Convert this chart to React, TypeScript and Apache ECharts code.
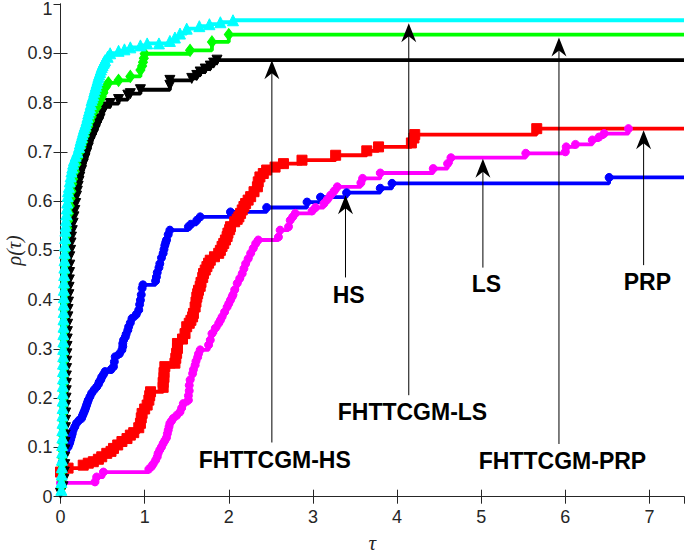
import React, { useEffect, useRef } from 'react';
import * as echarts from 'echarts';

const XMAX = 7.41;
const X_TICKS_INTERVAL = 1;
const Y_TICKS_INTERVAL = 0.1;
const Y_MAX = 1;

// Each series: [tau, rho] step points
const hsPoints = [[0.02,0.07],[0.05,0.09],[0.09,0.101],[0.1,0.106],[0.11,0.11],[0.12,0.116],[0.13,0.122],[0.14,0.128],[0.15,0.135],[0.17,0.142],[0.19,0.149],[0.22,0.155],[0.25,0.159],[0.26,0.164],[0.27,0.168],[0.28,0.172],[0.29,0.176],[0.3,0.181],[0.31,0.186],[0.32,0.191],[0.33,0.196],[0.35,0.203],[0.37,0.21],[0.4,0.217],[0.43,0.223],[0.45,0.228],[0.46,0.233],[0.48,0.238],[0.49,0.243],[0.51,0.248],[0.53,0.254],[0.6,0.258],[0.63,0.264],[0.64,0.274],[0.65,0.284],[0.7,0.29],[0.73,0.298],[0.74,0.305],[0.74,0.311],[0.75,0.318],[0.77,0.324],[0.78,0.33],[0.8,0.338],[0.81,0.345],[0.83,0.353],[0.85,0.362],[0.9,0.37],[0.93,0.379],[0.94,0.39],[0.95,0.399],[0.96,0.41],[0.97,0.423],[0.98,0.43],[1.13,0.438],[1.14,0.446],[1.15,0.455],[1.17,0.465],[1.18,0.473],[1.2,0.485],[1.22,0.494],[1.23,0.502],[1.24,0.51],[1.25,0.516],[1.26,0.521],[1.28,0.532],[1.3,0.541],[1.52,0.548],[1.55,0.553],[1.62,0.561],[1.66,0.568],[2.02,0.578],[2.45,0.587],[2.93,0.598],[3.09,0.608],[3.4,0.617],[3.8,0.626],[3.94,0.636],[6.52,0.648]];

const prpPoints = [[0,0.05],[0.09,0.058],[0.27,0.064],[0.33,0.068],[0.39,0.071],[0.45,0.076],[0.49,0.081],[0.55,0.088],[0.6,0.092],[0.63,0.098],[0.68,0.105],[0.73,0.112],[0.79,0.118],[0.83,0.125],[0.87,0.13],[0.93,0.14],[0.95,0.149],[0.96,0.16],[0.97,0.169],[1.0,0.178],[1.03,0.186],[1.05,0.196],[1.06,0.205],[1.07,0.213],[1.22,0.222],[1.22,0.232],[1.23,0.242],[1.23,0.252],[1.24,0.264],[1.36,0.271],[1.37,0.281],[1.38,0.291],[1.39,0.301],[1.39,0.311],[1.45,0.32],[1.48,0.331],[1.5,0.345],[1.53,0.352],[1.55,0.358],[1.57,0.365],[1.58,0.372],[1.6,0.385],[1.61,0.395],[1.62,0.405],[1.63,0.412],[1.64,0.419],[1.66,0.427],[1.67,0.435],[1.69,0.445],[1.7,0.453],[1.72,0.46],[1.74,0.467],[1.76,0.474],[1.78,0.48],[1.83,0.487],[1.88,0.494],[1.9,0.5],[1.92,0.508],[1.94,0.514],[1.96,0.521],[1.98,0.528],[1.99,0.535],[2.01,0.542],[2.02,0.548],[2.07,0.558],[2.1,0.563],[2.12,0.568],[2.14,0.575],[2.16,0.582],[2.18,0.589],[2.2,0.595],[2.23,0.602],[2.26,0.609],[2.3,0.619],[2.34,0.629],[2.35,0.639],[2.37,0.649],[2.41,0.656],[2.45,0.663],[2.55,0.669],[2.65,0.676],[2.87,0.683],[3.27,0.693],[3.64,0.702],[3.78,0.71],[4.17,0.718],[4.2,0.728],[4.21,0.735],[5.66,0.747]];

const lsPoints = [[0,0.028],[0.41,0.03],[0.43,0.04],[0.51,0.05],[1.05,0.056],[1.08,0.061],[1.1,0.066],[1.13,0.074],[1.15,0.081],[1.16,0.088],[1.18,0.095],[1.2,0.101],[1.22,0.108],[1.24,0.114],[1.26,0.12],[1.27,0.128],[1.28,0.135],[1.29,0.142],[1.3,0.149],[1.32,0.154],[1.34,0.159],[1.38,0.165],[1.42,0.172],[1.44,0.18],[1.46,0.189],[1.52,0.196],[1.52,0.205],[1.53,0.215],[1.53,0.226],[1.54,0.237],[1.57,0.25],[1.58,0.258],[1.6,0.267],[1.61,0.275],[1.63,0.283],[1.64,0.29],[1.66,0.298],[1.76,0.308],[1.78,0.318],[1.8,0.331],[1.84,0.342],[1.88,0.352],[1.9,0.358],[1.92,0.365],[1.95,0.375],[1.98,0.385],[2.0,0.392],[2.02,0.399],[2.04,0.406],[2.05,0.41],[2.07,0.42],[2.1,0.433],[2.13,0.443],[2.16,0.453],[2.18,0.463],[2.2,0.473],[2.23,0.483],[2.26,0.494],[2.29,0.504],[2.32,0.514],[2.35,0.521],[2.59,0.527],[2.61,0.541],[2.71,0.548],[2.73,0.561],[2.76,0.568],[2.79,0.575],[2.99,0.58],[3.03,0.587],[3.13,0.595],[3.17,0.603],[3.21,0.612],[3.25,0.62],[3.29,0.629],[3.57,0.637],[3.59,0.646],[3.8,0.657],[4.43,0.666],[4.6,0.676],[4.64,0.688],[5.53,0.697],[6.0,0.7],[6.01,0.71],[6.12,0.715],[6.32,0.724],[6.4,0.73],[6.46,0.737],[6.75,0.747]];

const fhHsPoints = [[0,0.007],[0.03,0.02],[0.04,0.035],[0.045,0.05],[0.05,0.065],[0.05,0.08],[0.052,0.095],[0.054,0.11],[0.056,0.125],[0.058,0.14],[0.06,0.155],[0.062,0.17],[0.064,0.185],[0.066,0.2],[0.068,0.215],[0.07,0.23],[0.07,0.245],[0.072,0.26],[0.074,0.275],[0.076,0.29],[0.078,0.305],[0.08,0.32],[0.082,0.335],[0.085,0.35],[0.088,0.365],[0.09,0.38],[0.095,0.395],[0.1,0.41],[0.102,0.425],[0.105,0.44],[0.108,0.455],[0.11,0.47],[0.11,0.487],[0.12,0.5],[0.125,0.515],[0.13,0.527],[0.14,0.54],[0.15,0.555],[0.16,0.568],[0.17,0.581],[0.18,0.595],[0.19,0.61],[0.2,0.62],[0.21,0.63],[0.22,0.64],[0.23,0.649],[0.25,0.662],[0.27,0.675],[0.29,0.686],[0.31,0.697],[0.33,0.708],[0.35,0.72],[0.37,0.728],[0.39,0.735],[0.41,0.744],[0.43,0.752],[0.45,0.76],[0.47,0.767],[0.49,0.78],[0.51,0.786],[0.53,0.791],[0.59,0.798],[0.69,0.806],[0.8,0.815],[0.83,0.818],[0.95,0.826],[1.3,0.835],[1.3,0.845],[1.56,0.849],[1.62,0.855],[1.66,0.862],[1.72,0.868],[1.78,0.874],[1.82,0.88],[1.86,0.886]];

const fhPrpPoints = [[0.01,0.02],[0.012,0.035],[0.014,0.05],[0.016,0.065],[0.018,0.08],[0.02,0.095],[0.022,0.11],[0.024,0.125],[0.026,0.14],[0.028,0.155],[0.03,0.17],[0.03,0.185],[0.032,0.2],[0.032,0.215],[0.034,0.23],[0.034,0.245],[0.036,0.26],[0.036,0.275],[0.038,0.29],[0.038,0.305],[0.04,0.32],[0.04,0.335],[0.042,0.35],[0.042,0.365],[0.044,0.38],[0.044,0.395],[0.046,0.41],[0.046,0.425],[0.048,0.44],[0.05,0.455],[0.05,0.47],[0.055,0.485],[0.06,0.5],[0.065,0.515],[0.07,0.53],[0.08,0.545],[0.09,0.56],[0.1,0.575],[0.11,0.59],[0.12,0.605],[0.13,0.62],[0.14,0.635],[0.15,0.645],[0.17,0.66],[0.19,0.675],[0.21,0.688],[0.23,0.7],[0.25,0.71],[0.27,0.72],[0.29,0.732],[0.31,0.742],[0.33,0.752],[0.35,0.762],[0.37,0.771],[0.39,0.78],[0.43,0.79],[0.45,0.798],[0.47,0.805],[0.49,0.812],[0.51,0.82],[0.54,0.832],[0.57,0.84],[0.69,0.845],[0.83,0.853],[0.95,0.866],[0.97,0.874],[0.98,0.882],[0.99,0.89],[1.0,0.899],[1.54,0.906],[1.8,0.923],[2.0,0.938]];

const fhLsPoints = [[0.01,0.014],[0.012,0.03],[0.014,0.045],[0.016,0.06],[0.018,0.075],[0.02,0.09],[0.02,0.105],[0.022,0.12],[0.022,0.135],[0.024,0.15],[0.024,0.165],[0.026,0.18],[0.026,0.195],[0.028,0.21],[0.028,0.225],[0.03,0.24],[0.03,0.255],[0.03,0.27],[0.032,0.285],[0.032,0.3],[0.034,0.315],[0.034,0.33],[0.036,0.345],[0.036,0.36],[0.038,0.375],[0.038,0.39],[0.04,0.405],[0.04,0.42],[0.042,0.435],[0.044,0.45],[0.046,0.465],[0.048,0.48],[0.05,0.495],[0.052,0.51],[0.055,0.525],[0.058,0.54],[0.062,0.55],[0.065,0.561],[0.07,0.573],[0.075,0.585],[0.08,0.597],[0.085,0.61],[0.09,0.62],[0.1,0.629],[0.11,0.64],[0.12,0.65],[0.13,0.66],[0.14,0.668],[0.15,0.676],[0.16,0.683],[0.18,0.692],[0.2,0.7],[0.22,0.71],[0.23,0.717],[0.24,0.724],[0.25,0.73],[0.26,0.736],[0.27,0.742],[0.28,0.748],[0.29,0.753],[0.3,0.758],[0.31,0.764],[0.32,0.771],[0.33,0.778],[0.34,0.784],[0.35,0.79],[0.36,0.797],[0.37,0.805],[0.38,0.81],[0.39,0.815],[0.4,0.822],[0.41,0.828],[0.42,0.834],[0.43,0.84],[0.44,0.846],[0.45,0.852],[0.46,0.857],[0.47,0.862],[0.48,0.867],[0.49,0.872],[0.5,0.876],[0.51,0.88],[0.52,0.883],[0.53,0.886],[0.56,0.893],[0.59,0.9],[0.69,0.905],[0.76,0.908],[0.83,0.912],[0.95,0.916],[1.03,0.92],[1.17,0.92],[1.3,0.925],[1.36,0.932],[1.42,0.94],[1.5,0.95],[1.65,0.955],[1.77,0.959],[1.9,0.963],[2.05,0.967]];

// Annotations (arrow: tau, base rho, tip rho; label: tau, rho, text)
const arrowTau = [2.512, 4.139, 5.924, 3.387, 5.02, 6.93];
const arrowBase = [0.11, 0.206, 0.107, 0.445, 0.465, 0.47];
const arrowTip = [0.886, 0.961, 0.932, 0.612, 0.686, 0.744];
const labelText = ['FHTTCGM-HS', 'FHTTCGM-LS', 'FHTTCGM-PRP', 'HS', 'LS', 'PRP'];
const labelTau = [2.547, 4.183, 5.966, 3.424, 5.062, 6.975];
const labelRho = [0.0744, 0.172, 0.0724, 0.41, 0.431, 0.436];

const AXIS_COLOR = '#262626';
const FONT = '"Liberation Sans", Arial, Helvetica, sans-serif';

function makeSeries(name: string, points: number[][], color: string, symbol: string, size: any, rotate: number, extend: boolean) {
  const data: any[] = points.map((p) => [p[0], p[1]]);
  if (extend) data.push({ value: [XMAX, points[points.length - 1][1]], symbol: 'none' });
  return {
    type: 'line',
    name,
    step: 'end',
    data,
    symbol,
    symbolSize: size,
    symbolRotate: rotate,
    showSymbol: true,
    showAllSymbol: true,
    clip: true,
    silent: true,
    lineStyle: { color, width: 3.8 },
    itemStyle: { color, borderColor: color, borderWidth: 1 },
  };
}

export default function App() {
  const ref = useRef<HTMLDivElement>(null);
  useEffect(() => {
    if (!ref.current) return;
    const chart = echarts.init(ref.current, null, { renderer: 'svg' });
    const axisCommon = {
      axisLine: { show: true, lineStyle: { color: AXIS_COLOR, width: 1 } },
      axisTick: { show: true, inside: true, length: 7, lineStyle: { color: AXIS_COLOR, width: 1 } },
      splitLine: { show: false },
    };
    const xBase = { type: 'value', min: 0, max: XMAX, interval: X_TICKS_INTERVAL, ...axisCommon };
    const yBase = { type: 'value', min: 0, max: Y_MAX, interval: Y_TICKS_INTERVAL, ...axisCommon };
    chart.setOption({
      animation: false,
      backgroundColor: '#ffffff',
      grid: { left: 60.5, right: 1, top: 4, bottom: 58.3, containLabel: false, outerBoundsMode: 'none' },
      xAxis: [
        {
          ...xBase,
          position: 'bottom',
          name: 'τ',
          nameLocation: 'middle',
          nameGap: 36,
          nameMoveOverlap: false,
          nameTextStyle: { fontFamily: '"Liberation Serif", "DejaVu Serif", serif', fontStyle: 'italic', fontSize: 21, color: AXIS_COLOR },
          axisLabel: { show: true, fontSize: 18, fontFamily: FONT, color: AXIS_COLOR, margin: 11, showMaxLabel: false },
        },
        { ...xBase, position: 'top', axisLabel: { show: false } },
      ],
      yAxis: [
        {
          ...yBase,
          position: 'left',
          name: 'ρ(τ)',
          nameLocation: 'middle',
          nameGap: 37,
          nameMoveOverlap: false,
          nameTextStyle: { fontFamily: '"Liberation Serif", "DejaVu Serif", serif', fontStyle: 'italic', fontSize: 20, color: AXIS_COLOR },
          axisLabel: { show: true, fontSize: 18, fontFamily: FONT, color: AXIS_COLOR, margin: 8, showMaxLabel: false },
        },
        { ...yBase, position: 'right', axisLabel: { show: false } },
      ],
      series: [
        makeSeries('HS', hsPoints, '#0000ff', 'circle', 8, 0, true),
        makeSeries('PRP', prpPoints, '#ff0000', 'rect', 10, 0, true),
        makeSeries('LS', lsPoints, '#ff00ff', 'circle', 8, 0, false),
        makeSeries('FHTTCGM-HS', fhHsPoints, '#000000', 'triangle', 10, 180, true),
        makeSeries('FHTTCGM-PRP', fhPrpPoints, '#00ff00', 'diamond', [9, 12], 0, true),
        makeSeries('FHTTCGM-LS', fhLsPoints, '#00ffff', 'triangle', 11, 0, true),
        {
          type: 'custom',
          name: 'arrows',
          silent: true,
          dimensions: ['x', 'y0', 'y1'],
          encode: { x: 0, y: [1, 2] },
          data: arrowTau.map((t, i) => [t, arrowBase[i], arrowTip[i]]),
          z: 10,
          renderItem: (params: any, api: any) => {
            const p0 = api.coord([api.value(0), api.value(1)]);
            const p1 = api.coord([api.value(0), api.value(2)]);
            const x = p1[0];
            const y = p1[1];
            return {
              type: 'group',
              children: [
                { type: 'line', shape: { x1: p0[0], y1: p0[1], x2: x, y2: y + 10 }, style: { stroke: '#000', lineWidth: 1 } },
                { type: 'polygon', shape: { points: [[x, y], [x - 7.5, y + 19], [x, y + 13], [x + 7.5, y + 19]] }, style: { fill: '#000' } },
              ],
            };
          },
        },
        {
          type: 'custom',
          name: 'labels',
          silent: true,
          data: labelTau.map((t, i) => [t, labelRho[i]]),
          z: 11,
          renderItem: (params: any, api: any) => {
            const p = api.coord([api.value(0), api.value(1)]);
            return {
              type: 'text',
              x: p[0],
              y: p[1],
              style: {
                text: labelText[params.dataIndex],
                align: 'center',
                verticalAlign: 'middle',
                fontSize: 23,
                fontWeight: 'bold',
                fontFamily: FONT,
                fill: '#000',
              },
            };
          },
        },
        {
          // top tick label of the y axis, kept inside the page
          type: 'custom',
          name: 'yMaxLabel',
          silent: true,
          data: [[0, Y_MAX]],
          z: 11,
          renderItem: (params: any, api: any) => {
            const p = api.coord([api.value(0), api.value(1)]);
            return {
              type: 'text',
              x: p[0] - 8,
              y: 0,
              style: {
                text: String(Y_MAX),
                align: 'right',
                verticalAlign: 'top',
                fontSize: 18,
                fontFamily: FONT,
                fill: AXIS_COLOR,
              },
            };
          },
        },
      ],
    });
    return () => chart.dispose();
  }, []);
  return <div ref={ref} style={{ position: 'fixed', left: 0, top: 0, width: 685, height: 555 }} />;
}
